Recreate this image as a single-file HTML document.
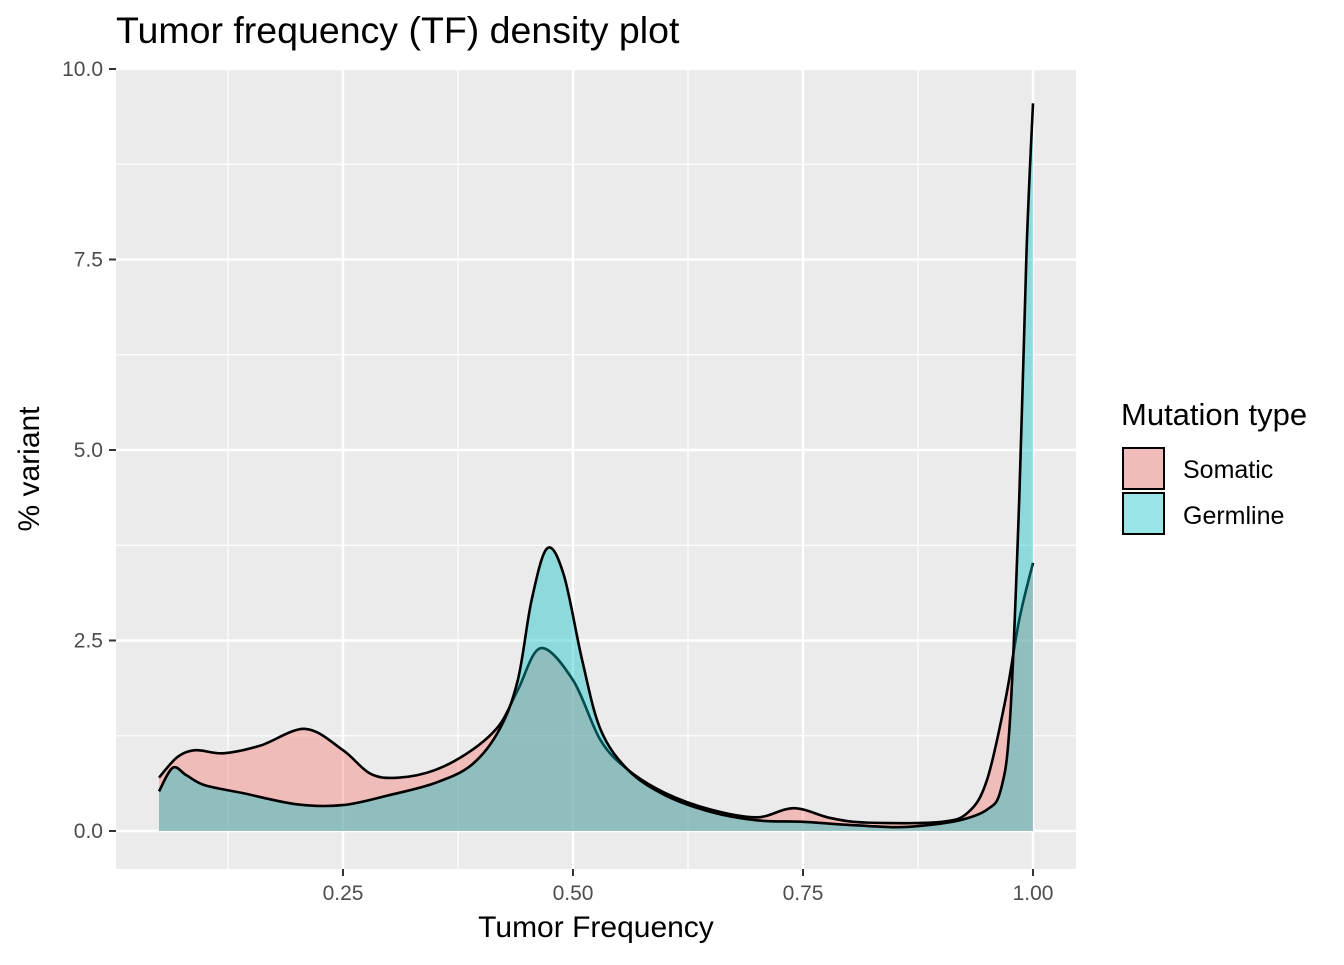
<!DOCTYPE html>
<html><head><meta charset="utf-8"><style>
body{margin:0;background:#fff;font-family:"Liberation Sans",Arial,sans-serif}
</style></head><body>
<svg id="c" width="1344" height="960" xmlns="http://www.w3.org/2000/svg">
<rect x="0" y="0" width="1344" height="960" fill="#fff"/>
<text x="116" y="43" font-size="37.5" fill="#000">Tumor frequency (TF) density plot</text>
<rect x="116" y="69" width="960" height="800" fill="#ebebeb"/>
<g id="grid"></g>
<g id="marks"></g>
<g id="axes"></g>
<text x="596" y="937" font-size="30" text-anchor="middle">Tumor Frequency</text>
<text transform="translate(39,469) rotate(-90)" font-size="30" text-anchor="middle">% variant</text>
<g>
<text x="1121" y="425" font-size="31">Mutation type</text>
<g>
<rect x="1122" y="447" width="42" height="42" fill="#ebebeb"/>
<rect x="1123" y="448" width="41" height="41" fill="#F8766D" fill-opacity="0.4" stroke="#000" stroke-width="2"/>
<text x="1183" y="478" font-size="25">Somatic</text></g>
<g>
<rect x="1123" y="493" width="41" height="41" fill="#00BFC4" fill-opacity="0.4" stroke="#000" stroke-width="2"/>
<text x="1183" y="524" font-size="25">Germline</text></g>
</g>
</svg>
<script>
const xTicks=[0.25,0.5,0.75,1.0];
const xTickLabels=["0.25","0.50","0.75","1.00"];
const yTicks=[0,2.5,5,7.5,10];
const yTickLabels=["0.0","2.5","5.0","7.5","10.0"];
const somaticX=[0.05,0.07,0.09,0.12,0.16,0.209,0.25,0.28,0.31,0.35,0.39,0.42,0.44,0.465,0.50,0.53,0.56,0.60,0.65,0.70,0.74,0.78,0.82,0.90,0.93,0.95,0.97,0.985,1.0];
const somaticY=[0.70,0.97,1.06,1.02,1.12,1.34,1.06,0.75,0.70,0.80,1.06,1.39,1.85,2.40,1.98,1.19,0.80,0.50,0.28,0.18,0.30,0.17,0.11,0.12,0.25,0.67,1.72,2.77,3.52];
const germX=[0.05,0.065,0.08,0.10,0.14,0.20,0.25,0.30,0.35,0.39,0.42,0.44,0.455,0.472,0.49,0.51,0.53,0.56,0.60,0.65,0.70,0.75,0.80,0.85,0.88,0.92,0.95,0.965,0.975,0.985,0.993,1.0];
const germY=[0.52,0.83,0.73,0.60,0.50,0.35,0.34,0.47,0.63,0.87,1.33,1.98,3.03,3.71,3.36,2.24,1.33,0.80,0.47,0.25,0.14,0.12,0.08,0.05,0.07,0.14,0.28,0.54,1.46,4.34,7.62,9.55];
const NS="http://www.w3.org/2000/svg";
const sx=v=>113+920*v, sy=v=>831-76.2*v;
function el(t,a,p){const e=document.createElementNS(NS,t);for(const k in a)e.setAttribute(k,a[k]);document.getElementById(p).appendChild(e);return e;}
for(const v of [0.125,0.375,0.625,0.875]){const e=el('line',{x1:sx(v),x2:sx(v),y1:69,y2:869,stroke:'#fff','stroke-width':1.2},'grid');

}
for(const v of [1.25,3.75,6.25,8.75]){const e=el('line',{x1:116,x2:1076,y1:sy(v),y2:sy(v),stroke:'#fff','stroke-width':1.2},'grid');

}
xTicks.forEach((v,i)=>{const g=el('line',{x1:sx(v),x2:sx(v),y1:69,y2:869,stroke:'#fff','stroke-width':2.4},'grid');


const t=el('line',{x1:sx(v),x2:sx(v),y1:869,y2:876,stroke:'#333','stroke-width':2},'axes');


const l=el('text',{x:sx(v),y:900,'font-size':21,'text-anchor':'middle',fill:'#4d4d4d'},'axes');l.textContent=xTickLabels[i];

});
yTicks.forEach((v,i)=>{const g=el('line',{x1:116,x2:1076,y1:sy(v),y2:sy(v),stroke:'#fff','stroke-width':2.4},'grid');


const t=el('line',{x1:109,x2:116,y1:sy(v),y2:sy(v),stroke:'#333','stroke-width':2},'axes');


const l=el('text',{x:103,y:sy(v)+7,'font-size':21,'text-anchor':'end',fill:'#4d4d4d'},'axes');l.textContent=yTickLabels[i];

});
function curve(xs,ys){const p=xs.map((x,i)=>[sx(x),sy(ys[i])]);let d=`M${p[0][0]},${p[0][1]}`;
for(let i=0;i<p.length-1;i++){const p0=p[i-1]||p[i],p1=p[i],p2=p[i+1],p3=p[i+2]||p2;
const t=1/6;let c1=[p1[0]+(p2[0]-p0[0])*t,p1[1]+(p2[1]-p0[1])*t],c2=[p2[0]-(p3[0]-p1[0])*t,p2[1]-(p3[1]-p1[1])*t];
c1[0]=Math.min(Math.max(c1[0],p1[0]),p2[0]);c2[0]=Math.min(Math.max(c2[0],p1[0]),p2[0]);
d+=` C${c1[0]},${c1[1]} ${c2[0]},${c2[1]} ${p2[0]},${p2[1]}`;}return d;}
function series(xs,ys,col,name){const d=curve(xs,ys);
const a=el('path',{d:d+` L${sx(xs[xs.length-1])},${sy(0)} L${sx(xs[0])},${sy(0)} Z`,fill:col,'fill-opacity':0.4,stroke:'none'},'marks');


const l=el('path',{d:d,fill:'none',stroke:'#000','stroke-width':2.6},'marks');

}
series(somaticX,somaticY,'#F8766D','somatic');
series(germX,germY,'#00BFC4','germline');
</script>
</body></html>
